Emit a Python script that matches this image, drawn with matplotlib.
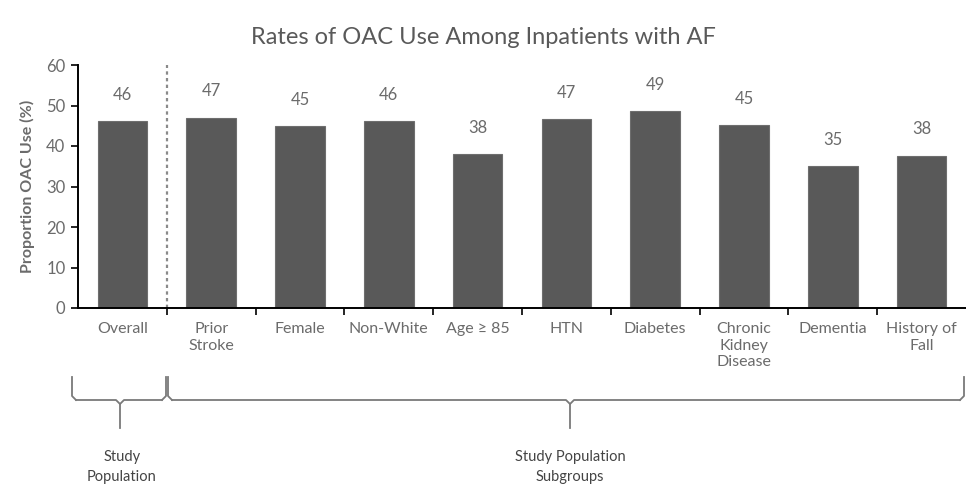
import numpy as np
import matplotlib.pyplot as plt
from matplotlib.ticker import FixedLocator

plt.rcParams['font.family'] = ['Lato', 'DejaVu Sans']

categories = ["Overall", "Prior\nStroke", "Female", "Non-White", "Age \u2265 85",
              "HTN", "Diabetes", "Chronic\nKidney\nDisease", "Dementia", "History of\nFall"]
oac_use = [46.2, 47.0, 45.0, 46.1, 38.0, 46.6, 48.6, 45.2, 35.1, 37.6]
yticks = [0, 10, 20, 30, 40, 50, 60]

grey = "#595959"
txt = "#6b6b6b"

W, H = 966, 495
fig = plt.figure(figsize=(W / 100, H / 100), dpi=100)
ax = fig.add_axes([78 / W, 1 - 308 / H, 888 / W, (308 - 65) / H])

x = np.arange(len(categories))
ax.bar(x, oac_use, width=0.56, color=grey, edgecolor="#6e6e6e", linewidth=0.8, zorder=2)
for xi, v in zip(x, oac_use):
    ax.text(xi, v + 4.5, f"{v:.0f}", ha="center", va="bottom", fontsize=12, color=txt)

ax.set_xlim(-0.5, len(categories) - 0.5)
ax.set_ylim(0, 60)
ax.set_yticks(yticks)
ax.set_xticks(x)
ax.set_xticklabels(categories, fontsize=11.5, color=txt, linespacing=1.25)
ax.tick_params(axis="x", length=0, pad=10)
ax.xaxis.set_minor_locator(FixedLocator(x[:-1] + 0.5))
ax.tick_params(axis="x", which="minor", length=5, direction="out", width=1.2)
ax.tick_params(axis="y", labelsize=12, labelcolor=txt, length=5, width=1.2, direction="out", pad=4)
for s in ["top", "right"]:
    ax.spines[s].set_visible(False)
ax.spines["left"].set_linewidth(1.4)
ax.spines["bottom"].set_linewidth(1.4)
ax.set_ylabel("Proportion OAC Use (%)", fontsize=11.5, fontweight="bold", color=txt, labelpad=8)

# dotted divider between overall population and subgroups
ax.axvline(0.5, ymin=0, ymax=1, color="#8a8a8a", linestyle=(0, (1.5, 1.5)), linewidth=1.6, zorder=1)

fig.text(0.5, 1 - 38 / H, "Rates of OAC Use Among Inpatients with AF",
         ha="center", va="center", fontsize=17, color="#595959")

# curly braces underneath the category labels, in pixel coordinates
ov = fig.add_axes([0, 0, 1, 1], facecolor="none")
ov.set_xlim(0, W)
ov.set_ylim(H, 0)
ov.axis("off")


def brace(x0, x1, xm, top=377, mid=400, tip=428):
    r = 4
    col = "#7a7a7a"
    ov.plot([x0, x0, x0 + r], [top, mid - r, mid], color=col, lw=1.3)
    ov.plot([x1, x1, x1 - r], [top, mid - r, mid], color=col, lw=1.3)
    ov.plot([x0 + r, xm - r, xm, xm + r, x1 - r], [mid, mid, mid + r, mid, mid], color=col, lw=1.3)
    ov.plot([xm, xm], [mid + r, tip], color=col, lw=1.3)


brace(72, 166, 120)
brace(168, 964, 570)

ov.text(122, 467, "Study\nPopulation", ha="center", va="center", fontsize=10.5,
        color="#444444", linespacing=1.5)
ov.text(570, 467, "Study Population\nSubgroups", ha="center", va="center", fontsize=10.5,
        color="#444444", linespacing=1.5)

fig.savefig("out.png", dpi=100)
